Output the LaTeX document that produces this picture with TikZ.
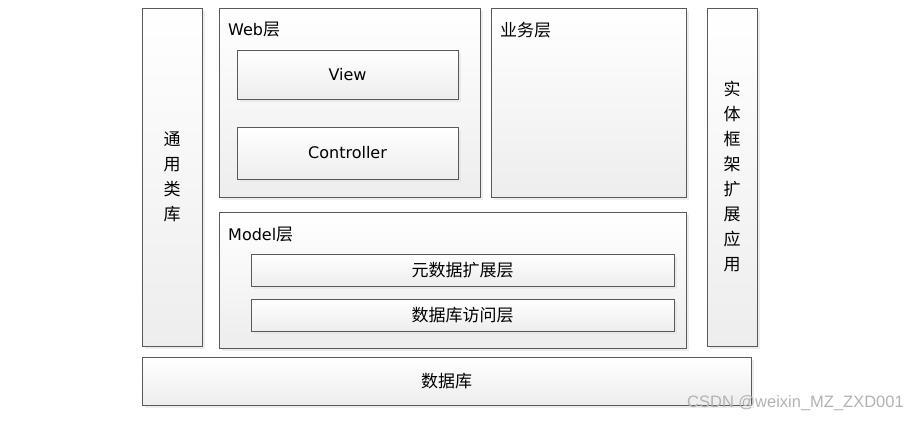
\documentclass[tikz,border=0pt]{standalone}
\usepackage{fontspec}
\setmainfont{DejaVu Sans}
\newfontfamily\cjk{Noto Sans CJK SC}
\newfontfamily\wmfont{Liberation Sans}
\usetikzlibrary{shadows}
\tikzset{
  layerbox/.style={draw=black!65, line width=0.9pt, inner sep=0pt, outer sep=0pt,
    top color=white, bottom color=black!7,
    drop shadow={shadow xshift=3pt, shadow yshift=-3pt, fill=black!10, opacity=0.7}},
  lbl/.style={inner sep=0pt, anchor=west, font=\fontsize{16}{18}\selectfont},
  ctext/.style={font=\fontsize{16}{18}\selectfont},
  cjktext/.style={font=\fontsize{17}{19}\selectfont\cjk},
  vtext/.style={align=center, font=\fontsize{17}{25}\selectfont\cjk}
}
\begin{document}
\begin{tikzpicture}[x=1pt, y=-1pt]
\useasboundingbox (0,0) rectangle (909,420);
% outer boxes
\node[layerbox, minimum width=60pt, minimum height=338pt] (lib) at (172,177) {};
\node[layerbox, minimum width=261pt, minimum height=189pt] (web) at (349.5,102.5) {};
\node[layerbox, minimum width=195pt, minimum height=189pt] (biz) at (588.5,102.5) {};
\node[layerbox, minimum width=50pt, minimum height=338pt] (ent) at (732,177) {};
\node[layerbox, minimum width=467pt, minimum height=136pt] (model) at (452.5,280) {};
\node[layerbox, minimum width=609pt, minimum height=48pt] (db) at (446.5,381) {};
% inner boxes
\node[layerbox, minimum width=221pt, minimum height=49pt, ctext] (view) at (347.5,74.5) {View};
\node[layerbox, minimum width=221pt, minimum height=52pt, ctext] (ctrl) at (347.5,153) {Controller};
\node[layerbox, minimum width=423pt, minimum height=32pt, cjktext] (meta) at (462.5,270) {元数据扩展层};
\node[layerbox, minimum width=423pt, minimum height=32pt, cjktext] (dal) at (462.5,315) {数据库访问层};
% labels
\node[lbl] (weblbl) at (228,30) {Web{\cjk\fontsize{17}{19}\selectfont 层}};
\node[lbl] (bizlbl) at (500,30) {\cjk\fontsize{17}{19}\selectfont 业务层};
\node[lbl] (modellbl) at (228,235) {Model{\cjk\fontsize{17}{19}\selectfont 层}};
\node[vtext] (libtxt) at (lib.center) {通\\用\\类\\库};
\node[vtext] (enttxt) at (ent.center) {实\\体\\框\\架\\扩\\展\\应\\用};
\node[cjktext] (dbtxt) at (db.center) {数据库};
% watermark
\node[anchor=east, inner sep=0pt, text=black!30, font=\fontsize{16.5}{18}\selectfont\wmfont] (wm) at (904,403) {CSDN @weixin\_MZ\_ZXD001};
\end{tikzpicture}
\end{document}
